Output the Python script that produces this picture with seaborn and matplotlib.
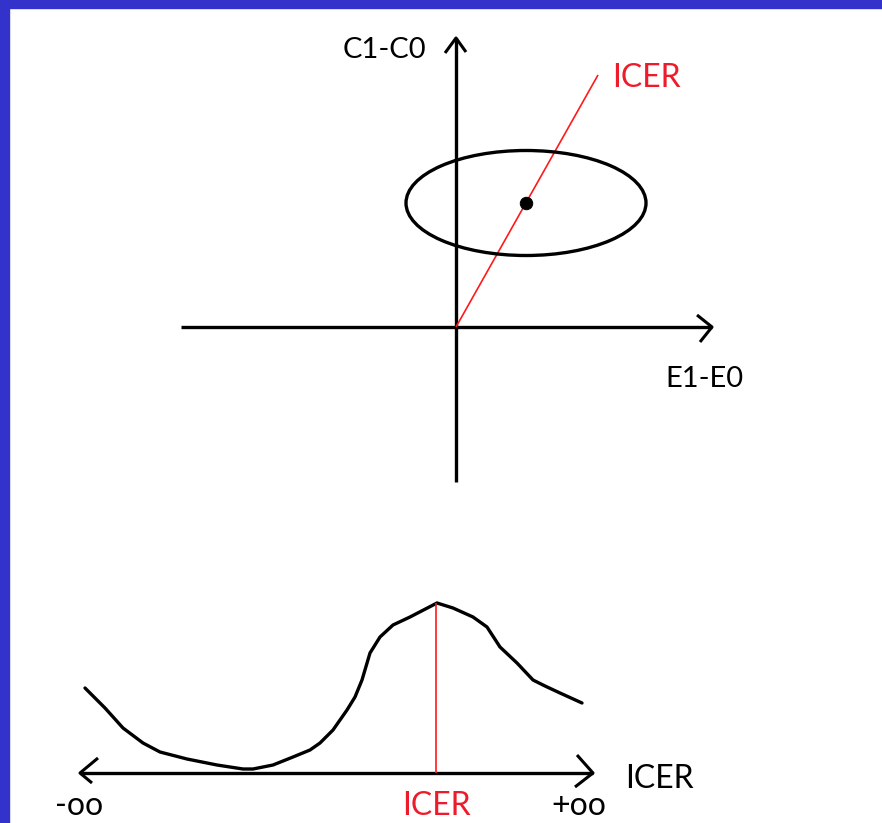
import matplotlib
matplotlib.use("Agg")
import matplotlib.pyplot as plt
import seaborn as sns
import pandas as pd
from matplotlib.patches import Ellipse, Rectangle

sns.set_style("white")
plt.rcParams['font.family'] = ['Lato', 'DejaVu Sans']

# ---- diagram data (canvas pixel space, y grows downward) ----
# upper diagram: cost-effectiveness plane
plane_origin = (456, 327)
plane_x_axis = [181, 712]          # horizontal axis extent
plane_y_axis = [482, 38]           # vertical axis extent
point_estimate = (526, 203)        # ICER point
ellipse_size = (240, 105)          # width, height of confidence ellipse
icer_ray_end = (598, 75)

# lower diagram: distribution of ICER
curve_x = [85, 105, 123, 143, 160, 187, 217, 243, 253, 273, 293, 310, 320, 333,
           347, 355, 362, 370, 380, 393, 410, 437, 453, 473, 487, 500, 517, 533,
           545, 560, 582]
curve_y = [688, 708, 728, 743, 752, 759, 765, 769, 769, 765, 757, 750, 743, 730,
           710, 697, 680, 653, 637, 625, 617, 603, 608, 617, 627, 647, 663, 680,
           686, 693, 703]
line_axis_x = [80, 593]
line_axis_y = 773
icer_peak_x = 436

BLACK = "black"
RED = "#ff1a1a"
TXT_RED = "#ee1c2a"
LW = 2.4

fig = plt.figure(figsize=(8.82, 8.23), dpi=100)
ax = fig.add_axes([0, 0, 1, 1])
ax.set_xlim(0, 882)
ax.set_ylim(823, 0)
ax.axis("off")

# blue frame
ax.add_patch(Rectangle((0, 0), 9, 823, color="#3333cc", zorder=0))
ax.add_patch(Rectangle((0, 0), 882, 8, color="#3333cc", zorder=0))

def seg(xs, ys, color=BLACK, lw=LW):
    sns.lineplot(x=xs, y=ys, ax=ax, color=color, linewidth=lw, sort=False,
                 estimator=None, legend=False, solid_capstyle="butt")

ox, oy = plane_origin
# upper axes
seg(plane_x_axis, [oy, oy])
seg([ox, ox], plane_y_axis)
# arrowheads
seg([697, plane_x_axis[1], 700], [315, oy, 342], lw=2.2)
seg([445, ox, 466], [53, plane_y_axis[1], 52], lw=2.2)

# ellipse and point
ax.add_patch(Ellipse(point_estimate, ellipse_size[0], ellipse_size[1],
                     fill=False, edgecolor=BLACK, linewidth=LW, zorder=3))
sns.scatterplot(x=[point_estimate[0]], y=[point_estimate[1]], ax=ax, color=BLACK,
                s=80, edgecolor=BLACK, zorder=5, legend=False)
# ICER ray
seg([ox, icer_ray_end[0]], [oy, icer_ray_end[1]], color=RED, lw=1.2)

ax.text(343, 58, "C1-C0", fontsize=21, color="black", ha="left", va="baseline")
ax.text(665, 387, "E1-E0", fontsize=21, color="black", ha="left", va="baseline")
ax.text(612, 87, "ICER", fontsize=23, color=TXT_RED, ha="left", va="baseline")

# lower diagram
df = pd.DataFrame({"x": curve_x, "y": curve_y})
sns.lineplot(data=df, x="x", y="y", ax=ax, color=BLACK, linewidth=LW, sort=False,
             estimator=None, legend=False)
seg(line_axis_x, [line_axis_y, line_axis_y])
seg([98, line_axis_x[0], 92], [758, line_axis_y, 783], lw=2.2)
seg([577, line_axis_x[1], 575], [755, line_axis_y, 787], lw=2.2)
seg([icer_peak_x, icer_peak_x], [min(curve_y), line_axis_y], color=RED, lw=1.2)

ax.text(625, 788, "ICER", fontsize=23, color="black", ha="left", va="baseline")
ax.text(402, 815, "ICER", fontsize=23, color=TXT_RED, ha="left", va="baseline")
ax.text(55, 815, "-oo", fontsize=23, color="black", ha="left", va="baseline")
ax.text(551, 815, "+oo", fontsize=23, color="black", ha="left", va="baseline")

ax.set_xlabel("")
ax.set_ylabel("")
fig.savefig("out.png", dpi=100)
